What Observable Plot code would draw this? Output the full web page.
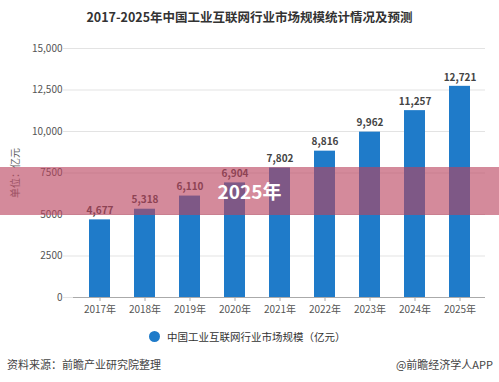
<!DOCTYPE html>
<html>
<head>
<meta charset="utf-8">
<script src="https://cdn.jsdelivr.net/npm/d3@7"></script>
<script src="https://cdn.jsdelivr.net/npm/@observablehq/plot@0.6"></script>
<style>
  body { margin: 0; background: #fff; font-family: "Noto Sans CJK SC", "Noto Sans", sans-serif; }
  #wrap { position: relative; width: 499px; height: 382px; overflow: hidden; background: #fff; }
  #title { position: absolute; left: 0; width: 499px; top: 7px; text-align: center; font-size: 12.5px; font-weight: bold; color: #333; }
  #chart { position: absolute; left: 0; top: 0; }
  #legend { position: absolute; left: 149px; top: 329px; font-size: 10.5px; color: #333; display: flex; align-items: center; }
  #legend .dot { width: 11px; height: 11px; border-radius: 50%; background: #1f7bc9; margin-right: 7px; }
  #src { position: absolute; left: 7px; top: 356px; font-size: 11px; color: #444; }
  #brand { position: absolute; right: 6px; top: 356px; font-size: 11px; color: #444; }
  #band { position: absolute; left: 0; top: 167px; width: 499px; height: 48px; background: rgba(186,66,93,0.62); }
  #bandText { position: absolute; left: 0; width: 499px; top: 179px; text-align: center; color: #fff; font-weight: bold; font-size: 19px; line-height: 24px; }
</style>
</head>
<body>
<div id="wrap">
  <div id="chart"></div>
  <div id="title"></div>
  <div id="legend"><span class="dot"></span><span id="legendText"></span></div>
  <div id="src"></div>
  <div id="brand"></div>
  <div id="band"></div>
  <div id="bandText"></div>
</div>
<script>
const titleText = "2017-2025年中国工业互联网行业市场规模统计情况及预测";
const years = ["2017年","2018年","2019年","2020年","2021年","2022年","2023年","2024年","2025年"];
const values = [4677, 5318, 6110, 6904, 7802, 8816, 9962, 11257, 12721];
const yTicks = [0, 2500, 5000, 7500, 10000, 12500, 15000];
const yTickLabels = ["0", "2500", "5000", "7500", "10,000", "12,500", "15,000"];
const yLabel = "单位：亿元";
const seriesName = "中国工业互联网行业市场规模（亿元）";
const sourceText = "资料来源：前瞻产业研究院整理";
const brandText = "@前瞻经济学人APP";
const overlayText = "2025年";

const data = years.map((y, i) => ({year: y, value: values[i]}));
const fmt = d3.format(",");
const tickMap = new Map(yTicks.map((t, i) => [t, yTickLabels[i]]));

document.getElementById("title").textContent = titleText;
document.getElementById("legendText").textContent = seriesName;
document.getElementById("src").textContent = sourceText;
document.getElementById("brand").textContent = brandText;
document.getElementById("bandText").textContent = overlayText;

const chart = Plot.plot({
  width: 499,
  height: 330,
  marginTop: 48,
  marginBottom: 33,
  marginLeft: 73,
  marginRight: 14,
  style: {fontFamily: '"Noto Sans CJK SC", "Noto Sans", sans-serif', background: "transparent"},
  x: {domain: years, paddingInner: 0.54, paddingOuter: 0.27, label: null},
  y: {domain: [0, 15000], label: null},
  marks: [
    Plot.ruleY(yTicks, {stroke: "#e3e3e3", strokeWidth: 1, insetLeft: -10}),
    Plot.barY(data, {x: "year", y: "value", fill: "#1f7bc9"}),
    Plot.ruleY([0], {stroke: "#aaa", strokeWidth: 1}),
    Plot.axisX({tickSize: 4, tickPadding: 4, fontSize: 10, color: "#555", stroke: "#aaa"}),
    Plot.axisY({ticks: yTicks, tickSize: 0, tickPadding: 11, fontSize: 10, color: "#555", tickFormat: d => tickMap.get(d)}),
    Plot.text(data, {x: "year", y: "value", text: d => fmt(d.value), dy: -9, fontSize: 10, fontWeight: "bold", fill: "#444"}),
    Plot.text([yLabel], {frameAnchor: "left", textAnchor: "middle", dx: -58, rotate: -90, fontSize: 10, fill: "#666"})
  ]
});
document.getElementById("chart").appendChild(chart);
</script>
</body>
</html>
